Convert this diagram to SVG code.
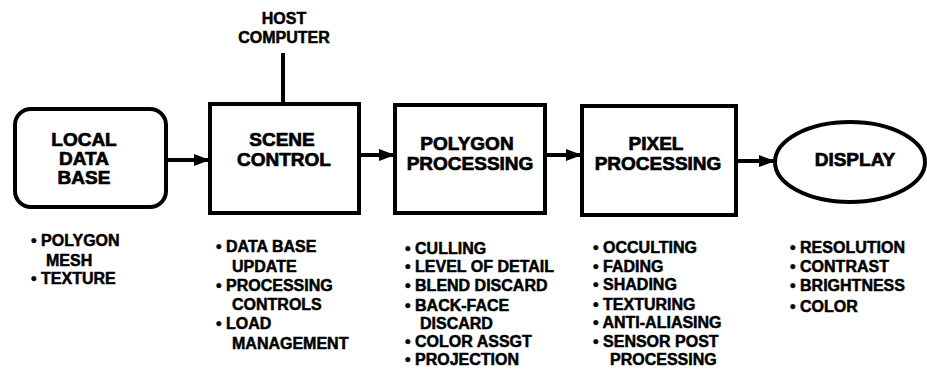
<svg xmlns="http://www.w3.org/2000/svg" width="927" height="369" viewBox="0 0 927 369">
<style>
.box{fill:#fff;stroke:#000;stroke-width:4}
.lbl{font-family:"Liberation Sans",Arial,sans-serif;font-weight:bold;font-size:19px;text-anchor:middle;fill:#000;stroke:#000;stroke-width:0.7}
.host{font-family:"Liberation Sans",Arial,sans-serif;font-weight:bold;font-size:16px;text-anchor:middle;fill:#000;stroke:#000;stroke-width:0.5}
.lst{font-family:"Liberation Sans",Arial,sans-serif;font-weight:bold;font-size:16px;fill:#000;stroke:#000;stroke-width:0.5}
.con{stroke:#000;stroke-width:4;fill:none}
</style>
<defs>
<marker id="ah" markerUnits="userSpaceOnUse" markerWidth="16" markerHeight="12" refX="16" refY="6" orient="auto">
<path d="M0,0 L16,6 L0,12 Z" fill="#000"/>
</marker>
</defs>
<g id="connectors">
<line class="con" x1="283" y1="53" x2="283" y2="103"/>
<line class="con" x1="166" y1="160" x2="210" y2="160" marker-end="url(#ah)"/>
<line class="con" x1="359" y1="155" x2="395" y2="155" marker-end="url(#ah)"/>
<line class="con" x1="545" y1="155" x2="582" y2="155" marker-end="url(#ah)"/>
<line class="con" x1="736" y1="161" x2="775" y2="161" marker-end="url(#ah)"/>
</g>
<g id="host">
<text class="host" x="284" y="24">HOST</text>
<text class="host" x="284" y="43">COMPUTER</text>
</g>
<g id="local">
<rect class="box" x="15" y="109" width="151" height="98" rx="16"/>
<text class="lbl" x="84" y="146">LOCAL</text>
<text class="lbl" x="84" y="165">DATA</text>
<text class="lbl" x="84" y="184">BASE</text>
</g>
<g id="scene">
<rect class="box" x="210" y="104" width="149" height="109"/>
<text class="lbl" x="282" y="146">SCENE</text>
<text class="lbl" x="284" y="166">CONTROL</text>
</g>
<g id="polygon">
<rect class="box" x="395" y="105" width="150" height="108"/>
<text class="lbl" x="467" y="150">POLYGON</text>
<text class="lbl" x="470" y="170">PROCESSING</text>
</g>
<g id="pixel">
<rect class="box" x="582" y="106" width="154" height="109"/>
<text class="lbl" x="656" y="150">PIXEL</text>
<text class="lbl" x="658" y="170">PROCESSING</text>
</g>
<g id="display">
<ellipse class="box" cx="850" cy="162" rx="75" ry="40"/>
<text class="lbl" x="855" y="166">DISPLAY</text>
</g>
<g id="local-list">
<text class="lst" x="31" y="246">• POLYGON</text>
<text class="lst" x="46" y="266">MESH</text>
<text class="lst" x="31" y="284">• TEXTURE</text>
</g>
<g id="scene-list">
<text class="lst" x="216" y="252">• DATA BASE</text>
<text class="lst" x="232" y="272">UPDATE</text>
<text class="lst" x="216" y="291">• PROCESSING</text>
<text class="lst" x="232" y="310">CONTROLS</text>
<text class="lst" x="216" y="329">• LOAD</text>
<text class="lst" x="232" y="349">MANAGEMENT</text>
</g>
<g id="polygon-list">
<text class="lst" x="405" y="254">• CULLING</text>
<text class="lst" x="405" y="272">• LEVEL OF DETAIL</text>
<text class="lst" x="405" y="291">• BLEND DISCARD</text>
<text class="lst" x="405" y="311">• BACK-FACE</text>
<text class="lst" x="420" y="329">DISCARD</text>
<text class="lst" x="405" y="347">• COLOR ASSGT</text>
<text class="lst" x="405" y="365">• PROJECTION</text>
</g>
<g id="pixel-list">
<text class="lst" x="593" y="253">• OCCULTING</text>
<text class="lst" x="593" y="272">• FADING</text>
<text class="lst" x="593" y="290">• SHADING</text>
<text class="lst" x="593" y="310">• TEXTURING</text>
<text class="lst" x="593" y="328">• ANTI-ALIASING</text>
<text class="lst" x="593" y="347">• SENSOR POST</text>
<text class="lst" x="610" y="365">PROCESSING</text>
</g>
<g id="display-list">
<text class="lst" x="790" y="253">• RESOLUTION</text>
<text class="lst" x="790" y="272">• CONTRAST</text>
<text class="lst" x="790" y="291">• BRIGHTNESS</text>
<text class="lst" x="790" y="312">• COLOR</text>
</g>
</svg>
